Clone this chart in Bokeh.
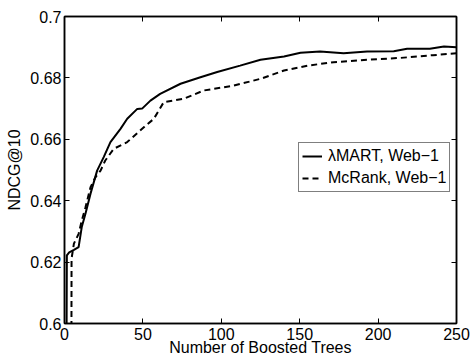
from bokeh.plotting import figure
from bokeh.models import (LinearAxis, FixedTicker, CustomJSTickFormatter, Legend,
                          LegendItem, Range1d, CustomLabelingPolicy)
from bokeh.embed import file_html
from bokeh.resources import INLINE

# lambdaMART, Web-1 (solid)
lm_x = [1, 1.5, 3, 6, 9, 11, 13.4, 16.6, 20.8, 25, 29.3, 35.7, 40, 46.4, 49.5, 54.8, 61,
        74, 86.7, 97.4, 112, 125, 140, 150.5, 163, 178, 193, 210, 218.5, 233, 242, 250]
lm_y = [0.55, 0.6222, 0.6232, 0.6240, 0.6249, 0.6314, 0.6358, 0.6423, 0.6498, 0.6542,
        0.6591, 0.6634, 0.6667, 0.6699, 0.6700, 0.6726, 0.6748, 0.6781, 0.6802, 0.6819,
        0.6840, 0.6859, 0.6870, 0.6882, 0.6886, 0.6880, 0.6886, 0.6887, 0.6895, 0.6895,
        0.6902, 0.6900]

# McRank, Web-1 (dashed)
mc_x = [4.3, 4.5, 6, 9, 11, 13.4, 16.6, 19.8, 23, 26, 31.4, 40, 50.6, 57, 63.3, 76, 88.8,
        108, 125, 140, 155, 171.6, 193, 214, 235, 250]
mc_y = [0.55, 0.6211, 0.6260, 0.6292, 0.6335, 0.6379, 0.6444, 0.6477, 0.6498, 0.6531,
        0.6569, 0.6591, 0.6639, 0.6667, 0.6721, 0.6732, 0.6759, 0.6775, 0.6797, 0.6824,
        0.6840, 0.6851, 0.6859, 0.6865, 0.6874, 0.6880]

x_ticks = [0, 50, 100, 150, 200, 250]
y_ticks = [0.6, 0.62, 0.64, 0.66, 0.68, 0.7]
labels = ["\u03bbMART, Web\u22121", "McRank, Web\u22121"]
x_label = "Number of Boosted Trees"
y_label = "NDCG@10"

FONT = "Liberation Sans"

p = figure(width=471, height=358, output_backend="svg", toolbar_location=None,
           x_range=Range1d(0, 250), y_range=Range1d(0.6, 0.7),
           min_border_left=64, min_border_right=15, min_border_top=16,
           min_border_bottom=35)
p.background_fill_color = "white"
p.border_fill_color = "white"
p.outline_line_color = "black"
p.outline_line_width = 1.5
p.xgrid.visible = False
p.ygrid.visible = False

fmt = CustomJSTickFormatter(code="return (+tick.toFixed(4)).toString();")
blank = CustomJSTickFormatter(code="return '';")

def style(ax, show_labels):
    ax.major_tick_in = 5
    ax.major_tick_out = 0
    ax.minor_tick_in = 0
    ax.minor_tick_out = 0
    ax.major_tick_line_color = "black"
    ax.major_tick_line_width = 1
    ax.axis_line_color = "black"
    ax.axis_line_width = 1.5
    ax.major_label_text_font = FONT
    ax.major_label_text_color = "black"
    ax.axis_label_text_font = FONT
    ax.axis_label_text_font_style = "normal"
    ax.axis_label_text_font_size = "16px"
    ax.axis_label_text_color = "black"
    ax.major_label_text_font_size = "16px"
    if not show_labels:
        ax.formatter = blank
        ax.major_label_policy = CustomLabelingPolicy(code="return [];")
        ax.major_label_standoff = 0

xa = p.xaxis[0]
ya = p.yaxis[0]
xa.ticker = FixedTicker(ticks=x_ticks)
ya.ticker = FixedTicker(ticks=y_ticks)
ya.formatter = fmt
style(xa, True)
style(ya, True)
xa.axis_label = x_label
ya.axis_label = y_label
xa.major_label_standoff = 4
xa.axis_label_standoff = -4
ya.major_label_standoff = 3
ya.axis_label_standoff = 4

top = LinearAxis(ticker=FixedTicker(ticks=x_ticks))
right = LinearAxis(ticker=FixedTicker(ticks=y_ticks))
style(top, False)
style(right, False)
p.add_layout(top, "above")
p.add_layout(right, "right")

r1 = p.line(lm_x, lm_y, line_color="black", line_width=2)
r2 = p.line(mc_x, mc_y, line_color="black", line_width=2, line_dash="6 4")

legend = Legend(items=[LegendItem(label=labels[0], renderers=[r1]),
                       LegendItem(label=labels[1], renderers=[r2])],
                location=(234, 131))
legend.border_line_color = "black"
legend.border_line_width = 1
legend.background_fill_color = "white"
legend.background_fill_alpha = 1
legend.padding = 3
legend.spacing = 2
legend.margin = 0
legend.label_standoff = 6
legend.glyph_width = 20
legend.glyph_height = 20
legend.label_height = 20
legend.label_text_font = FONT
legend.label_text_font_size = "16px"
legend.label_text_color = "black"
p.add_layout(legend)

open("out.html", "w").write(file_html(p, INLINE))
